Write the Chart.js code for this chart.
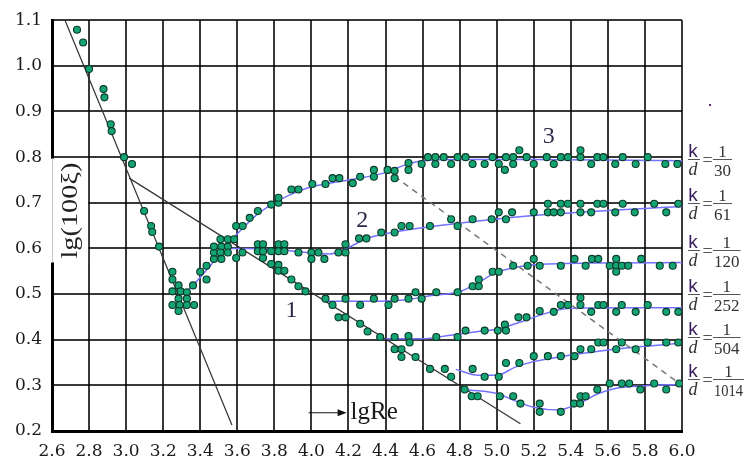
<!DOCTYPE html>
<html><head><meta charset="utf-8">
<script src="https://cdn.jsdelivr.net/npm/chart.js@4.4.1/dist/chart.umd.min.js"></script>
<style>html,body{margin:0;padding:0;background:#fff;}canvas{display:block;}</style>
</head><body>
<canvas id="c" width="744" height="468"></canvas>
<script>
// ---- tick values / labels ----
const xTickValues = [2.6,2.8,3.0,3.2,3.4,3.6,3.8,4.0,4.2,4.4,4.6,4.8,5.0,5.2,5.4,5.6,5.8,6.0];
const xTickLabels = ['2.6','2.8','3.0','3.2','3.4','3.6','3.8','4.0','4.2','4.4','4.6','4.8','5.0','5.2','5.4','5.6','5.8','6.0'];
const yTickValues = [0.2,0.3,0.4,0.5,0.6,0.7,0.8,0.9,1.0,1.1];
const yTickLabels = ['0.2','0.3','0.4','0.5','0.6','0.7','0.8','0.9','1.0','1.1'];

// ---- measured points [lgRe, lg(100xi)] ----
const ptsLaminar = [[2.735,1.079],[2.768,1.051],[2.80,0.993],[2.878,0.949],[2.883,0.931],[2.917,0.872],[2.922,0.857],[2.989,0.80],[3.032,0.785],[3.097,0.682],[3.135,0.649],[3.141,0.636],[3.178,0.604]];
const ptsTransition = [[3.25,0.549],[3.25,0.532],[3.283,0.519],[3.25,0.506],[3.294,0.506],[3.328,0.504],[3.283,0.49],[3.328,0.49],[3.25,0.476],[3.289,0.476],[3.328,0.476],[3.367,0.476],[3.283,0.463],[3.361,0.519],[3.40,0.549],[3.434,0.532],[3.434,0.562],[3.474,0.577],[3.474,0.591],[3.474,0.604],[3.509,0.62],[3.514,0.604],[3.509,0.591],[3.514,0.577],[3.549,0.62],[3.549,0.604],[3.549,0.591],[3.583,0.62],[3.594,0.579]];
const pts30 = [[3.594,0.649],[3.629,0.649],[3.667,0.667],[3.711,0.682],[3.783,0.696],[3.822,0.70],[3.822,0.711],[3.892,0.729],[3.93,0.729],[4.005,0.741],[4.076,0.741],[4.114,0.754],[4.151,0.754],[4.223,0.743],[4.263,0.757],[4.337,0.757],[4.337,0.772],[4.411,0.772],[4.449,0.77],[4.449,0.754],[4.524,0.787],[4.524,0.772],[4.595,0.785],[4.629,0.80],[4.669,0.80],[4.669,0.785],[4.714,0.80],[4.754,0.785],[4.789,0.80],[4.832,0.80],[4.87,0.785],[4.935,0.785],[4.978,0.80],[5.011,0.785],[5.044,0.772],[5.05,0.80],[5.089,0.80],[5.089,0.785],[5.122,0.815],[5.161,0.80],[5.2,0.785],[5.27,0.80],[5.308,0.785],[5.346,0.80],[5.384,0.80],[5.452,0.815],[5.452,0.80],[5.51,0.785],[5.543,0.80],[5.576,0.80],[5.64,0.785],[5.68,0.80],[5.75,0.785],[5.815,0.80],[5.91,0.785],[5.975,0.785]];
const pts61 = [[3.628,0.591],[3.711,0.609],[3.739,0.609],[3.711,0.594],[3.739,0.594],[3.783,0.594],[3.822,0.609],[3.854,0.609],[3.822,0.594],[3.854,0.594],[3.93,0.591],[4.0,0.591],[4.038,0.591],[4.0,0.577],[4.07,0.577],[4.146,0.591],[4.184,0.609],[4.184,0.591],[4.257,0.622],[4.297,0.622],[4.377,0.635],[4.449,0.635],[4.486,0.649],[4.53,0.649],[4.64,0.649],[4.754,0.664],[4.789,0.649],[4.87,0.664],[4.973,0.664],[5.011,0.679],[5.05,0.664],[5.083,0.679],[5.2,0.679],[5.276,0.698],[5.276,0.679],[5.308,0.679],[5.346,0.679],[5.346,0.698],[5.384,0.698],[5.452,0.698],[5.452,0.679],[5.51,0.679],[5.543,0.698],[5.576,0.698],[5.64,0.679],[5.68,0.698],[5.745,0.679],[5.85,0.698],[5.915,0.679],[5.98,0.698]];
const pts120 = [[3.739,0.579],[3.783,0.566],[3.822,0.564],[3.822,0.551],[3.854,0.551],[3.892,0.532],[3.93,0.517],[3.968,0.506],[4.076,0.49],[4.114,0.476],[4.184,0.49],[4.263,0.476],[4.337,0.49],[4.416,0.476],[4.449,0.49],[4.524,0.49],[4.562,0.504],[4.595,0.49],[4.674,0.504],[4.789,0.504],[4.87,0.517],[4.903,0.532],[4.903,0.517],[4.978,0.549],[5.011,0.549],[5.089,0.562],[5.167,0.562],[5.2,0.577],[5.232,0.562],[5.346,0.562],[5.42,0.577],[5.48,0.562],[5.514,0.577],[5.548,0.577],[5.61,0.562],[5.645,0.577],[5.645,0.562],[5.645,0.549],[5.675,0.562],[5.71,0.562],[5.78,0.577],[5.88,0.562],[5.95,0.562]];
const pts252 = [[4.146,0.449],[4.184,0.449],[4.263,0.435],[4.303,0.418],[4.371,0.406],[4.449,0.406],[4.524,0.408],[4.53,0.394],[4.674,0.406],[4.789,0.406],[4.832,0.42],[4.935,0.42],[5.006,0.42],[5.044,0.433],[5.05,0.42],[5.117,0.449],[5.161,0.449],[5.232,0.463],[5.308,0.461],[5.346,0.476],[5.384,0.476],[5.452,0.492],[5.452,0.476],[5.51,0.461],[5.548,0.476],[5.576,0.476],[5.645,0.461],[5.675,0.476],[5.75,0.461],[5.815,0.476],[5.915,0.461],[5.98,0.461]];
const pts504 = [[4.449,0.379],[4.486,0.379],[4.486,0.362],[4.562,0.362],[4.64,0.336],[4.72,0.336],[4.754,0.319],[4.87,0.336],[4.935,0.319],[5.011,0.319],[5.05,0.349],[5.122,0.349],[5.2,0.364],[5.276,0.364],[5.346,0.364],[5.42,0.364],[5.452,0.379],[5.51,0.379],[5.548,0.394],[5.576,0.394],[5.645,0.379],[5.675,0.394],[5.75,0.379],[5.815,0.394],[5.915,0.394],[5.98,0.394]];
const pts1014 = [[4.827,0.291],[4.865,0.276],[4.897,0.276],[5.017,0.276],[5.089,0.276],[5.128,0.26],[5.232,0.26],[5.232,0.242],[5.346,0.242],[5.417,0.26],[5.45,0.26],[5.452,0.276],[5.48,0.276],[5.543,0.291],[5.61,0.304],[5.675,0.304],[5.715,0.304],[5.775,0.291],[5.85,0.304],[5.915,0.291],[5.985,0.304]];

// ---- lines ----
const lineLaminar = [[2.67,1.1],[3.571,0.213]];
const lineBlasius = [[3.016,0.754],[5.128,0.216]];
const lineDashed = [[4.4,0.772],[6.0,0.30]];
const curve30 = [[3.27,0.49],[3.35,0.515],[3.45,0.56],[3.55,0.61],[3.6,0.632],[3.7,0.672],[3.8,0.70],[3.9,0.72],[4.0,0.735],[4.2,0.75],[4.4,0.766],[4.5,0.782],[4.6,0.792],[4.8,0.795],[5.2,0.795],[6.0,0.792]];
const curve61 = [[3.55,0.60],[3.8,0.598],[4.0,0.59],[4.1,0.588],[4.2,0.602],[4.3,0.622],[4.45,0.636],[4.65,0.648],[4.9,0.66],[5.2,0.672],[5.6,0.683],[6.0,0.692]];
const curve120 = [[4.08,0.484],[4.3,0.484],[4.5,0.487],[4.65,0.497],[4.8,0.505],[4.9,0.525],[5.0,0.548],[5.1,0.558],[5.2,0.564],[5.5,0.568],[6.0,0.569]];
const curve252 = [[4.36,0.402],[4.6,0.402],[4.75,0.41],[4.9,0.418],[5.0,0.423],[5.1,0.435],[5.2,0.449],[5.3,0.462],[5.4,0.469],[5.7,0.47],[6.0,0.47]];
const curve504 = [[4.78,0.335],[4.9,0.322],[5.0,0.322],[5.1,0.34],[5.2,0.352],[5.35,0.363],[5.5,0.372],[5.7,0.382],[6.0,0.392]];
const curve1014 = [[4.85,0.29],[5.0,0.282],[5.1,0.266],[5.2,0.252],[5.33,0.246],[5.45,0.262],[5.55,0.282],[5.65,0.294],[5.8,0.299],[6.0,0.302]];

// ---- right-side labels ----
const ratioDen = ['30','61','120','252','504','1014'];
const ratioLabelY = [0.797,0.70,0.596,0.50,0.406,0.313];

function ptsDS(data){
  return {type:'scatter', data, pointRadius:3.5, pointHoverRadius:3.5,
    pointBackgroundColor:'#14a372', pointBorderColor:'#0b3a28', pointBorderWidth:1.1,
    showLine:false, order:0};
}
function lineDS(data, color, width, dash, smooth){
  return {type:'line', data, borderColor:color, borderWidth:width, borderDash:dash||[],
    pointRadius:0, fill:false, showLine:true, order:1,
    tension: smooth?0.4:0, cubicInterpolationMode: smooth?'monotone':'default'};
}
const BLUE = '#7272ff';

const overlay = {
  id:'overlay',
  afterDraw(chart){
    const ctx = chart.ctx, xs = chart.scales.x, ys = chart.scales.y, ca = chart.chartArea;
    const X = v => xs.getPixelForValue(v), Y = v => ys.getPixelForValue(v);
    ctx.save();
    // y-title box
    const bx = ca.left - 3, bt = Y(0.8) + 1.5, bb = Y(0.6) + 14, br = X(2.8) - 1;
    ctx.fillStyle = '#fff';
    ctx.fillRect(bx, bt, br - bx, bb - bt);
    ctx.strokeStyle = '#c8c8c8'; ctx.lineWidth = 1;
    ctx.beginPath(); ctx.moveTo(ca.left + 0.5, bt); ctx.lineTo(ca.left + 0.5, bb); ctx.stroke();
    ctx.save();
    ctx.translate((ca.left + br) / 2 + 1, (bt + bb) / 2);
    ctx.rotate(-Math.PI / 2);
    ctx.scale(1.18, 1);
    ctx.fillStyle = '#222';
    ctx.font = '24px "Liberation Serif"';
    ctx.textAlign = 'center'; ctx.textBaseline = 'middle';
    ctx.fillText('lg(100\u03BE)', 0, 0);
    ctx.restore();

    // curve numbers
    ctx.fillStyle = '#2a2a48';
    ctx.font = '24px "Liberation Serif"';
    ctx.textAlign = 'center'; ctx.textBaseline = 'alphabetic';
    ctx.fillText('1', X(3.892), Y(0.449));
    ctx.fillText('2', X(4.274), Y(0.647));
    ctx.fillText('3', X(5.281), Y(0.832));

    // lgRe arrow
    const ay = Y(0.24), ax0 = X(3.985), ax1 = X(4.19);
    ctx.strokeStyle = '#111'; ctx.lineWidth = 1.2;
    ctx.beginPath(); ctx.moveTo(ax0, ay); ctx.lineTo(ax1 - 6, ay); ctx.stroke();
    ctx.fillStyle = '#111';
    ctx.beginPath(); ctx.moveTo(ax1, ay); ctx.lineTo(ax1 - 9, ay - 3.5); ctx.lineTo(ax1 - 9, ay + 3.5); ctx.closePath(); ctx.fill();
    ctx.font = '25px "Liberation Serif"';
    ctx.textAlign = 'left';
    ctx.fillStyle = '#1a1a1a';
    ctx.fillText('lgRe', X(4.211), Y(0.227));

    // k/d labels
    const lx = ca.right + 6;
    ratioDen.forEach((den, i) => {
      const by = Math.round(Y(ratioLabelY[i])) + 0.5;
      ctx.textAlign = 'center'; ctx.textBaseline = 'alphabetic';
      ctx.font = '19px "Liberation Sans"';
      ctx.fillStyle = '#3a1d5c';
      ctx.fillText('k', lx + 5, by - 3);
      ctx.font = 'italic 18px "Liberation Serif"';
      ctx.fillStyle = '#333';
      ctx.fillText('d', lx + 5, by + 15);
      ctx.strokeStyle = '#555'; ctx.lineWidth = 1;
      ctx.beginPath(); ctx.moveTo(lx, by); ctx.lineTo(lx + 12, by); ctx.stroke();
      ctx.font = '18px "Liberation Serif"';
      ctx.fillStyle = '#555';
      ctx.fillText('=', lx + 19.5, by + 6);
      ctx.font = '17px "Liberation Serif"';
      ctx.fillStyle = '#333';
      const dl = lx + 26;
      let w = ctx.measureText(den).width;
      const maxW = 744 - dl - 1;
      if (w > maxW) w = maxW;
      ctx.textAlign = 'left';
      ctx.fillText(den, dl, by + 16, maxW);
      ctx.textAlign = 'center';
      ctx.fillText('1', dl + w / 2, by - 3);
      ctx.strokeStyle = '#555';
      ctx.beginPath(); ctx.moveTo(dl - 1, by); ctx.lineTo(dl + w + 1, by); ctx.stroke();
    });
    // small dot
    ctx.fillStyle = '#5a2d7a';
    ctx.fillRect(709, 104, 2, 2);
    ctx.restore();
  }
};

new Chart(document.getElementById('c'), {
  type:'scatter',
  data:{datasets:[
    ptsDS(ptsLaminar), ptsDS(ptsTransition), ptsDS(pts30), ptsDS(pts61),
    ptsDS(pts120), ptsDS(pts252), ptsDS(pts504), ptsDS(pts1014),
    lineDS(lineLaminar,'#333',1.2), lineDS(lineBlasius,'#333',1.2),
    lineDS(lineDashed,'#777',1.5,[6,5]),
    lineDS(curve30,BLUE,1.5,null,true), lineDS(curve61,BLUE,1.5,null,true),
    lineDS(curve120,BLUE,1.5,null,true), lineDS(curve252,BLUE,1.5,null,true),
    lineDS(curve504,BLUE,1.5,null,true), lineDS(curve1014,BLUE,1.5,null,true)
  ]},
  options:{
    responsive:false, animation:false, devicePixelRatio:1,
    layout:{padding:{left:0,right:62,top:13,bottom:0}},
    plugins:{legend:{display:false}, tooltip:{enabled:false}},
    events:[],
    scales:{
      x:{type:'linear', min:2.6, max:6.0,
        afterBuildTicks: s => { s.ticks = xTickValues.map(v => ({value:v})); },
        afterFit: s => { s.height = 37; },
        grid:{color:'rgba(0,0,0,0.78)', lineWidth:2, drawTicks:false},
        border:{color:'#000', width:3},
        ticks:{padding:10, autoSkip:false, maxRotation:0, minRotation:0, color:'#1a1a1a',
          font:{family:'DejaVu Serif', size:17}, callback:(v,i) => xTickLabels[i]}
      },
      y:{type:'linear', min:0.2, max:1.1,
        afterBuildTicks: s => { s.ticks = yTickValues.map(v => ({value:v})); },
        afterFit: s => { s.width = 52; },
        grid:{color:'rgba(0,0,0,0.78)', lineWidth:2, drawTicks:false},
        border:{color:'#000', width:3},
        ticks:{padding:10, color:'#1a1a1a', font:{family:'DejaVu Serif', size:17},
          callback:(v,i) => yTickLabels[i]}
      }
    }
  },
  plugins:[overlay]
});
</script>
</body></html>
